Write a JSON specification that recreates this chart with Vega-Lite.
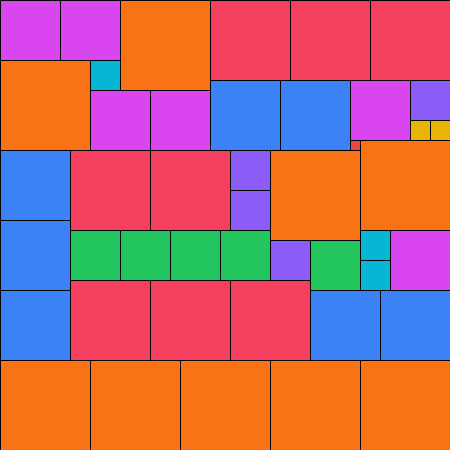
{
  "$schema": "https://vega.github.io/schema/vega-lite/v6.json",
  "width": 450,
  "height": 450,
  "autosize": {"type": "none"},
  "padding": 0,
  "view": {"stroke": null},
  "background": "white",
  "data": {"values": [
    {"g": "magenta", "x": 0, "x2": 6, "y": 0, "y2": 6},
    {"g": "magenta", "x": 6, "x2": 12, "y": 0, "y2": 6},
    {"g": "orange", "x": 12, "x2": 21, "y": 0, "y2": 9},
    {"g": "rose", "x": 21, "x2": 29, "y": 0, "y2": 8},
    {"g": "rose", "x": 29, "x2": 37, "y": 0, "y2": 8},
    {"g": "rose", "x": 37, "x2": 45, "y": 0, "y2": 8},
    {"g": "orange", "x": 0, "x2": 9, "y": 6, "y2": 15},
    {"g": "cyan", "x": 9, "x2": 12, "y": 6, "y2": 9},
    {"g": "magenta", "x": 9, "x2": 15, "y": 9, "y2": 15},
    {"g": "magenta", "x": 15, "x2": 21, "y": 9, "y2": 15},
    {"g": "blue", "x": 21, "x2": 28, "y": 8, "y2": 15},
    {"g": "blue", "x": 28, "x2": 35, "y": 8, "y2": 15},
    {"g": "magenta", "x": 35, "x2": 41, "y": 8, "y2": 14},
    {"g": "violet", "x": 41, "x2": 45, "y": 8, "y2": 12},
    {"g": "yellow", "x": 41, "x2": 43, "y": 12, "y2": 14},
    {"g": "yellow", "x": 43, "x2": 45, "y": 12, "y2": 14},
    {"g": "red", "x": 35, "x2": 36, "y": 14, "y2": 15},
    {"g": "orange", "x": 36, "x2": 45, "y": 14, "y2": 23},
    {"g": "blue", "x": 0, "x2": 7, "y": 15, "y2": 22},
    {"g": "blue", "x": 0, "x2": 7, "y": 22, "y2": 29},
    {"g": "blue", "x": 0, "x2": 7, "y": 29, "y2": 36},
    {"g": "rose", "x": 7, "x2": 15, "y": 15, "y2": 23},
    {"g": "rose", "x": 15, "x2": 23, "y": 15, "y2": 23},
    {"g": "violet", "x": 23, "x2": 27, "y": 15, "y2": 19},
    {"g": "violet", "x": 23, "x2": 27, "y": 19, "y2": 23},
    {"g": "orange", "x": 27, "x2": 36, "y": 15, "y2": 24},
    {"g": "green", "x": 7, "x2": 12, "y": 23, "y2": 28},
    {"g": "green", "x": 12, "x2": 17, "y": 23, "y2": 28},
    {"g": "green", "x": 17, "x2": 22, "y": 23, "y2": 28},
    {"g": "green", "x": 22, "x2": 27, "y": 23, "y2": 28},
    {"g": "violet", "x": 27, "x2": 31, "y": 24, "y2": 28},
    {"g": "green", "x": 31, "x2": 36, "y": 24, "y2": 29},
    {"g": "cyan", "x": 36, "x2": 39, "y": 23, "y2": 26},
    {"g": "cyan", "x": 36, "x2": 39, "y": 26, "y2": 29},
    {"g": "magenta", "x": 39, "x2": 45, "y": 23, "y2": 29},
    {"g": "rose", "x": 7, "x2": 15, "y": 28, "y2": 36},
    {"g": "rose", "x": 15, "x2": 23, "y": 28, "y2": 36},
    {"g": "rose", "x": 23, "x2": 31, "y": 28, "y2": 36},
    {"g": "blue", "x": 31, "x2": 38, "y": 29, "y2": 36},
    {"g": "blue", "x": 38, "x2": 45, "y": 29, "y2": 36},
    {"g": "orange", "x": 0, "x2": 9, "y": 36, "y2": 45},
    {"g": "orange", "x": 9, "x2": 18, "y": 36, "y2": 45},
    {"g": "orange", "x": 18, "x2": 27, "y": 36, "y2": 45},
    {"g": "orange", "x": 27, "x2": 36, "y": 36, "y2": 45},
    {"g": "orange", "x": 36, "x2": 45, "y": 36, "y2": 45}
  ]},
  "mark": {"type": "rect", "stroke": "black", "strokeWidth": 1},
  "encoding": {
    "x": {"field": "x", "type": "quantitative", "scale": {"domain": [0, 45], "range": [0.5, 450.5], "nice": false, "zero": false}, "axis": null},
    "x2": {"field": "x2"},
    "y": {"field": "y", "type": "quantitative", "scale": {"domain": [0, 45], "range": [0.5, 450.5], "nice": false, "zero": false}, "axis": null},
    "y2": {"field": "y2"},
    "color": {
      "field": "g", "type": "nominal", "legend": null,
      "scale": {
        "domain": ["magenta", "orange", "rose", "cyan", "blue", "violet", "yellow", "red", "green"],
        "range": ["#d946ef", "#f97316", "#f43f5e", "#06b6d4", "#3b82f6", "#8b5cf6", "#eab308", "#ef4444", "#22c55e"]
      }
    }
  }
}
